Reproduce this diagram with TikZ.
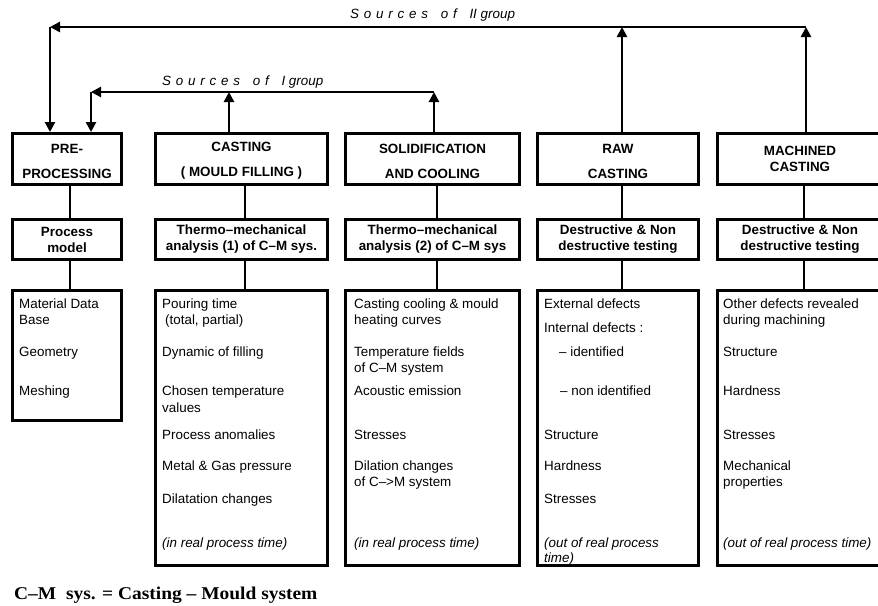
\documentclass[tikz,border=0pt]{standalone}
\usepackage{fontspec}
\setmainfont{Liberation Sans}
\newfontfamily\serifbold[FakeStretch=1.08]{Liberation Serif}
\usetikzlibrary{arrows.meta}
\newcommand\fs{\fontsize{13.4}{16}\selectfont}
\newcommand\lsp{\hspace{4.8pt}}
\newcommand\wsp{\hspace{12.7pt}}
\newcommand\topstrut{\rule{0pt}{13.6pt}}
\begin{document}
\begin{tikzpicture}[x=1pt,y=-1pt,
  box/.style={draw, line width=3pt, inner sep=0pt, align=center, font=\bfseries\fs},
  frame/.style={draw, line width=3pt, inner sep=0pt},
  body/.style={anchor=base west, inner sep=0pt, font=\fs},
  link/.style={line width=1.2pt},
  arr/.style={line width=2.8pt, -{Triangle[width=10pt,length=10pt]}},
  lab/.style={anchor=west, inner sep=0pt, font=\itshape\fs}]
\useasboundingbox (0,0) rectangle (878,605);
\clip (0,0) rectangle (878,605);
% row 1
\node[box, minimum width=109, minimum height=51] (pre1) at (67,159) {\topstrut PRE-\\[9pt]PROCESSING};
\node[box, minimum width=172, minimum height=51] (cast1) at (241.5,159) {\topstrut CASTING\\[9pt]( MOULD FILLING )};
\node[box, minimum width=174, minimum height=51] (sol1) at (432.5,159) {\topstrut SOLIDIFICATION\\[9pt]AND COOLING};
\node[box, minimum width=161, minimum height=51] (raw1) at (618,159) {\topstrut RAW\\[9pt]CASTING};
\node[box, minimum width=171, minimum height=51] (mach1) at (803,159) {\hspace*{-6pt}MACHINED\\\hspace*{-6pt}CASTING};
% row 2
\node[box, minimum width=109, minimum height=40] (pre2) at (67,239.5) {Process\\model};
\node[box, minimum width=172, minimum height=40] (cast2) at (241.5,239.5) {Thermo–mechanical\\analysis (1) of C–M sys.};
\node[box, minimum width=174, minimum height=40] (sol2) at (432.5,239.5) {Thermo–mechanical\\analysis (2) of C–M sys};
\node[box, minimum width=161, minimum height=40] (raw2) at (618,239.5) {Destructive \& Non\\destructive testing};
\node[box, minimum width=171, minimum height=40] (mach2) at (803,239.5) {\hspace*{-6pt}Destructive \& Non\\\hspace*{-6pt}destructive testing};
% row 3
\node[frame, minimum width=109, minimum height=130] (pre3) at (67,355.5) {};
\node[frame, minimum width=172, minimum height=275] (cast3) at (241.5,428) {};
\node[frame, minimum width=174, minimum height=275] (sol3) at (432.5,428) {};
\node[frame, minimum width=161, minimum height=275] (raw3) at (618,428) {};
\node[frame, minimum width=171, minimum height=275] (mach3) at (803,428) {};
% connector x positions
\coordinate (xp) at (70,0);
\coordinate (xc) at (245,0);
\coordinate (xs) at (437,0);
\coordinate (xr) at (622,0);
\coordinate (xm) at (804,0);
\foreach \a/\b/\x in {pre1/pre2/xp, pre2/pre3/xp, cast1/cast2/xc, cast2/cast3/xc, sol1/sol2/xs, sol2/sol3/xs, raw1/raw2/xr, raw2/raw3/xr, mach1/mach2/xm, mach2/mach3/xm}
  \draw[link] (\a.south -| \x) -- (\b.north -| \x);
% feedback arrows
\coordinate (yII) at (0,27);
\coordinate (yI) at (0,92);
\coordinate (xa) at (50,0);
\coordinate (xb) at (91,0);
\coordinate (xca) at (229,0);
\coordinate (xsa) at (434,0);
\coordinate (xra) at (622,0);
\coordinate (xma) at (806,0);
\draw[arr] (raw1.north -| xra) -- (xra |- yII);
\draw[arr] (mach1.north -| xma) -- (xma |- yII);
\draw[arr] (xma |- yII) -- (xa |- yII);
\draw[arr] (xa |- yII) -- (pre1.north -| xa);
\draw[arr] (cast1.north -| xca) -- (xca |- yI);
\draw[arr] (sol1.north -| xsa) -- (xsa |- yI);
\draw[arr] (xsa |- yI) -- (xb |- yI);
\draw[arr] (xb |- yI) -- (pre1.north -| xb);
\node[lab] (labII) at (350,15) {S\lsp o\lsp u\lsp r\lsp c\lsp e\lsp s\wsp o\lsp f\wsp II group};
\node[lab] (labI) at (162,82) {S\lsp o\lsp u\lsp r\lsp c\lsp e\lsp s\wsp o\lsp f\wsp I group};
% column texts
\foreach \t/\y [count=\i] in {Material Data/308, Base/324, Geometry/356, Meshing/395}
  \node[body] (pa\i) at (19,\y) {\t};
\foreach \t/\y [count=\i] in {Pouring time/308, {\hspace*{3pt}(total, partial)}/324, Dynamic of filling/356, Chosen temperature/395, values/412, Process anomalies/439, Metal \& Gas pressure/470, Dilatation changes/503, {\itshape (in real process time)}/547}
  \node[body] (ca\i) at (162,\y) {\t};
\foreach \t/\y [count=\i] in {Casting cooling \& mould/308, heating curves/324, Temperature fields/356, of C–M system/372, Acoustic emission/395, Stresses/439, Dilation changes/470, of C–>M system/486, {\itshape (in real process time)}/547}
  \node[body] (so\i) at (354,\y) {\t};
\foreach \t/\y [count=\i] in {External defects/308, Internal defects :/332, {\hspace*{15pt}– identified}/356, {\hspace*{16pt}– non identified}/395, Structure/439, Hardness/470, Stresses/503, {\itshape (out of real process}/547, {\itshape time)}/562}
  \node[body] (ra\i) at (544,\y) {\t};
\foreach \t/\y [count=\i] in {Other defects revealed/308, during machining/324, Structure/356, Hardness/395, Stresses/439, Mechanical/470, properties/486, {\itshape (out of real process time)}/547}
  \node[body] (ma\i) at (723,\y) {\t};
\node[anchor=base west, inner sep=0pt, font=\serifbold\bfseries\fontsize{18}{20}\selectfont] (note) at (14,599) {C–M\ \ sys. = Casting – Mould system};
\end{tikzpicture}
\end{document}
